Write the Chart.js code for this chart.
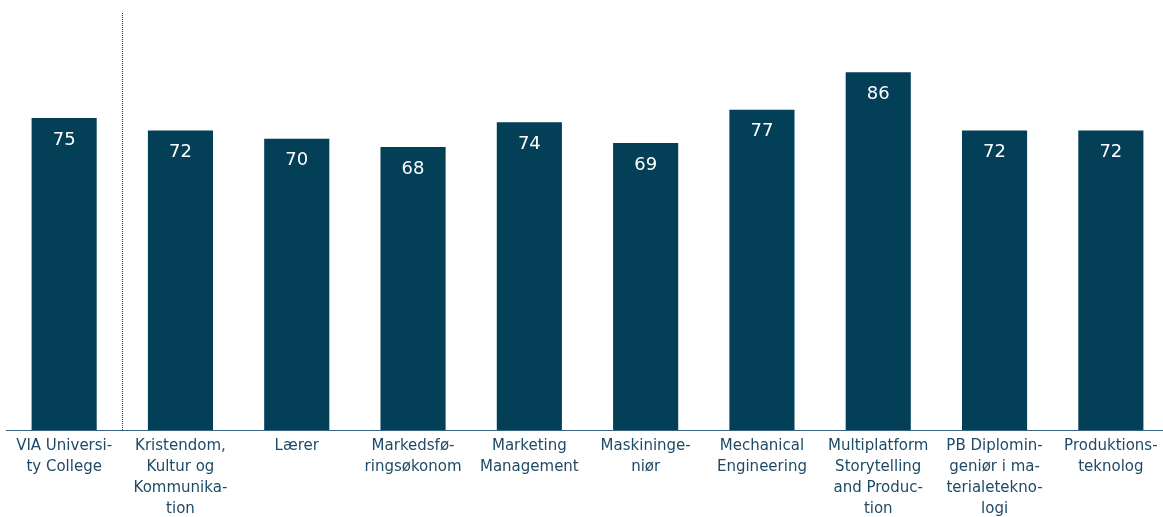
<!DOCTYPE html>
<html>
<head>
<meta charset="utf-8">
<script src="https://cdn.jsdelivr.net/npm/chart.js@4"></script>
<style>
  html, body { margin: 0; padding: 0; background: #fff; overflow: hidden; }
  #wrap { width: 1169px; height: 517px; position: relative; }
</style>
</head>
<body>
<div id="wrap"><canvas id="chart"></canvas></div>
<script>
// Data
const categories = [
    ['VIA Universi-', 'ty College'],
    ['Kristendom,', 'Kultur og', 'Kommunika-', 'tion'],
    ['Lærer'],
    ['Markedsfø-', 'ringsøkonom'],
    ['Marketing', 'Management'],
    ['Maskininge-', 'niør'],
    ['Mechanical', 'Engineering'],
    ['Multiplatform', 'Storytelling', 'and Produc-', 'tion'],
    ['PB Diplomin-', 'geniør i ma-', 'terialetekno-', 'logi'],
    ['Produktions-', 'teknolog']
];
const scores = [75, 72, 70, 68, 74, 69, 77, 86, 72, 72];
const yMax = 100;

const BAR_COLOR = '#033f57';
const TEXT_COLOR = '#1e4a66';

// Value labels inside top of bars
const valueLabels = {
    id: 'valueLabels',
    afterDatasetsDraw(chart) {
        const ctx = chart.ctx;
        const meta = chart.getDatasetMeta(0);
        ctx.save();
        ctx.fillStyle = '#ffffff';
        ctx.font = '18px "DejaVu Sans", sans-serif';
        ctx.textAlign = 'center';
        ctx.textBaseline = 'middle';
        meta.data.forEach((bar, i) => {
            ctx.fillText(String(scores[i]), bar.x, bar.y + 22);
        });
        ctx.restore();
    }
};

// Dotted separator after the first (total) category
const separator = {
    id: 'separator',
    afterDatasetsDraw(chart) {
        const x = chart.scales.x;
        const y = chart.scales.y;
        const xPos = (x.getPixelForValue(0) + x.getPixelForValue(1)) / 2;
        const ctx = chart.ctx;
        ctx.save();
        ctx.strokeStyle = '#333333';
        ctx.lineWidth = 1;
        ctx.setLineDash([1, 1]);
        ctx.beginPath();
        ctx.moveTo(Math.round(xPos) + 0.5, y.getPixelForValue(yMax) - 1);
        ctx.lineTo(Math.round(xPos) + 0.5, y.getPixelForValue(0));
        ctx.stroke();
        ctx.restore();
    }
};

new Chart(document.getElementById('chart'), {
    type: 'bar',
    data: {
        labels: categories,
        datasets: [{
            data: scores,
            backgroundColor: BAR_COLOR,
            borderWidth: 0,
            barPercentage: 1,
            categoryPercentage: 0.56
        }]
    },
    options: {
        responsive: true,
        maintainAspectRatio: false,
        animation: false,
        layout: {
            padding: { top: 14, left: 6, right: 0, bottom: 0 }
        },
        plugins: {
            legend: { display: false },
            tooltip: { enabled: false }
        },
        scales: {
            y: {
                display: false,
                min: 0,
                max: yMax
            },
            x: {
                grid: { display: false, drawTicks: false },
                border: { display: true, color: '#3a6580', width: 1 },
                afterFit(scale) {
                    scale.height = 87;
                },
                ticks: {
                    color: TEXT_COLOR,
                    padding: 5,
                    maxRotation: 0,
                    autoSkip: false,
                    font: { family: '"DejaVu Sans", sans-serif', size: 15, lineHeight: 1.42 }
                }
            }
        }
    },
    plugins: [valueLabels, separator]
});
</script>
</body>
</html>
